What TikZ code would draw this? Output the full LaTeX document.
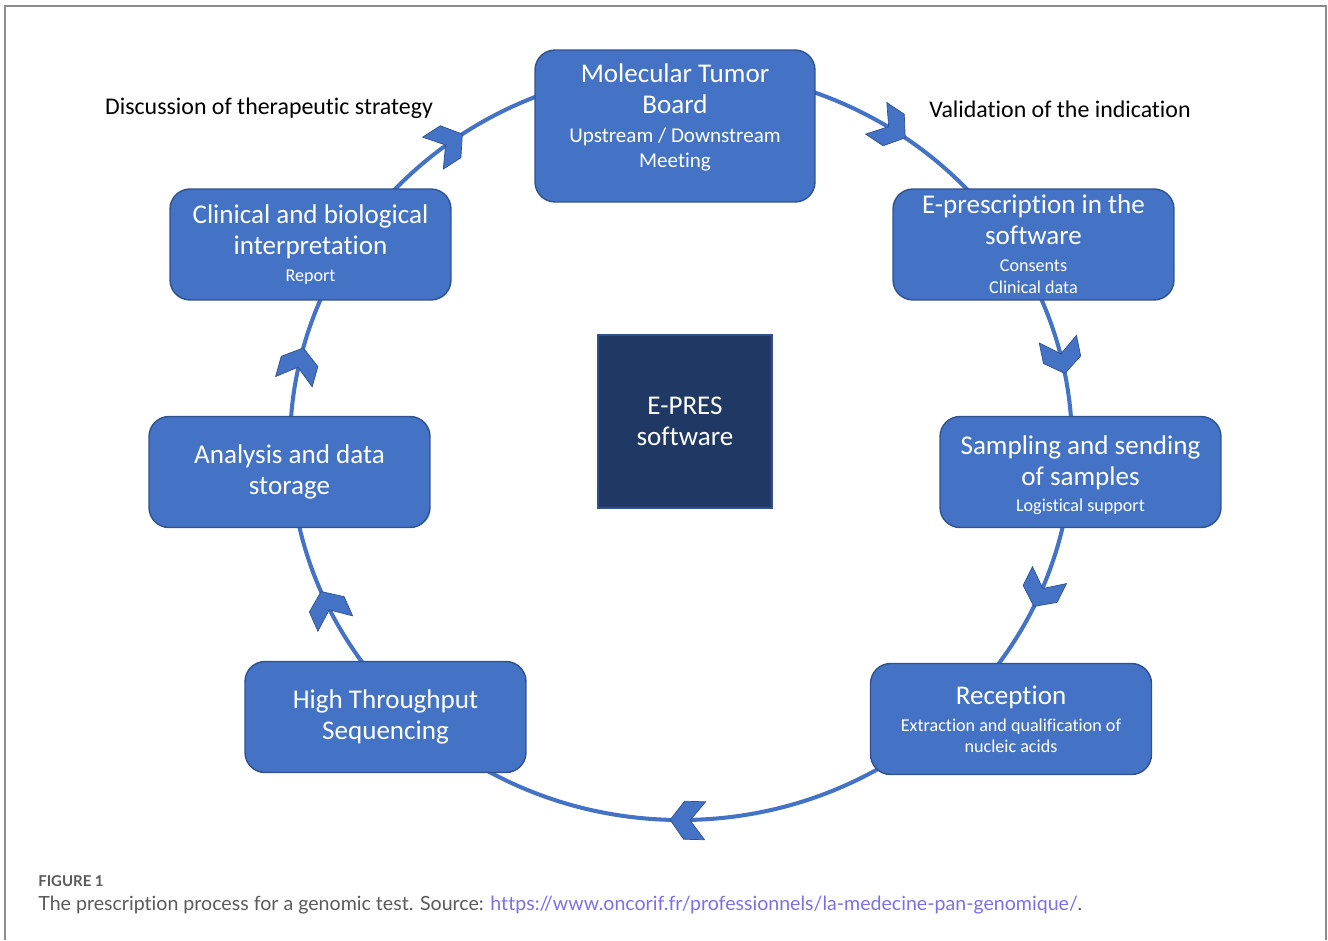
\documentclass[tikz,border=0pt]{standalone}
\usepackage{fontspec}
\setmainfont{Carlito}[RawFeature={-liga;-clig;-calt;-dlig}]
\newfontfamily\capfont{Lato}[RawFeature={-liga;-clig;-calt;-dlig}]
\usepackage{xcolor}
\usetikzlibrary{math}
\usetikzlibrary{backgrounds}

\definecolor{boxblue}{HTML}{4472C4}
\definecolor{boxedge}{HTML}{2F528F}
\definecolor{softwarenavy}{HTML}{203864}
\definecolor{framegray}{HTML}{8C8C8C}
\definecolor{captiongray}{HTML}{5A5A5A}
\definecolor{linkblue}{HTML}{7B70E6}

\newcommand{\subline}{\fontsize{12}{14.2}\selectfont}
\newcommand{\smallline}{\fontsize{10.3}{12}\selectfont}

\tikzset{
  stepbox/.style={rectangle, rounded corners=0.4cm, fill=boxblue, draw=boxedge,
    line width=0.8pt, text=white, align=center, inner sep=0pt,
    minimum width=5.62cm, minimum height=2.22cm,
    font=\fontsize{15.4}{17.6}\selectfont},
  softbox/.style={rectangle, fill=softwarenavy, draw=boxedge, line width=0.6pt,
    text=white, align=center, minimum width=3.48cm, minimum height=3.46cm,
    font=\fontsize{15.4}{17.6}\selectfont},
  sidelabel/.style={font=\fontsize{13.6}{16}\selectfont, text=black},
  cycleline/.style={draw=boxblue, line width=2.3pt},
  chev/.style={fill=boxblue, draw=boxedge, line width=0.4pt, line join=miter},
}

\begin{document}
\begin{tikzpicture}[x=0.02cm, y=0.02cm]

  \tikzmath{
    \cx = 681;  % centre of the cycle
    \cy = -445;
    \rx = 391;  % half width of the cycle
    \ry = 375;  % half height of the cycle
  }

  \useasboundingbox (0,0) rectangle (1328,-940);

  % frame of the figure
  \draw[framegray, line width=0.6pt] (5,-940) -- (5,-6) -- (1326,-6) -- (1326,-940);

  % steps of the process
  \node[stepbox, minimum width=5.6cm, minimum height=3.04cm] (board) at (675,-126)
    {Molecular Tumor\\Board\\[-1.1pt]{\subline Upstream / Downstream}\\[-3.4pt]{\subline Meeting}\\[-6pt]\mbox{}};
  \node[stepbox] (eprescription) at (1033.5,-244.5)
    {E-prescription in the\\software\\[-2.3pt]{\smallline Consents}\\[-5.1pt]{\smallline Clinical data}};
  \node[stepbox] (sampling) at (1080.5,-472)
    {\mbox{}\\[-3.2pt]Sampling and sending\\of samples\\[-2.9pt]{\smallline Logistical support}};
  \node[stepbox] (reception) at (1011,-719)
    {Reception\\[-2.3pt]{\smallline Extraction and qualification of}\\[-5.7pt]{\smallline nucleic acids}};
  \node[stepbox] (sequencing) at (385.5,-717)
    {High Throughput\\Sequencing};
  \node[stepbox] (storage) at (289.5,-472)
    {Analysis and data\\storage};
  \node[stepbox] (interpretation) at (310.5,-244.5)
    {Clinical and biological\\interpretation\\[-2.3pt]{\smallline Report}};

  % software in the middle
  \node[softbox] (software) at (685,-421.5) {E-PRES\\software};

  % side labels
  \node[sidelabel] (discussion) at (269,-108) {Discussion of therapeutic strategy};
  \node[sidelabel] (validation) at (1060,-109) {Validation of the indication};

  % the cycle behind the steps
  \coordinate (centre) at (\cx,\cy);
  \begin{scope}[on background layer]
    \draw[cycleline] (centre) ellipse [x radius=\rx, y radius=\ry];
  \end{scope}

  % chevrons along the cycle, clockwise
  \foreach \t in {55,11,-25.5,-91.6,-157,165,124} {
    \tikzmath{
      \px  = \cx + \rx*cos(\t);
      \py  = \cy + \ry*sin(\t);
      \dir = atan2(-\ry*cos(\t), \rx*sin(\t));
    }
    \begin{scope}[shift={(\px,\py)}, rotate=\dir]
      \filldraw[chev] (0,0) -- (-14,19) -- (-35,19) -- (-20,0)
        -- (-35,-19) -- (-14,-19) -- cycle;
    \end{scope}
  }

  % caption
  \node[anchor=base west, inner sep=0pt, text=captiongray,
    font=\capfont\bfseries\fontsize{8.5}{10}\selectfont] (figlabel) at (38,-886) {FIGURE 1};
  \node[anchor=base west, inner sep=0pt, text=captiongray,
    font=\capfont\fontsize{11.15}{13}\selectfont] (caption) at (38,-910)
    {The prescription process for a genomic test. Source: \textcolor{linkblue}{https://www.oncorif.fr/professionnels/la-medecine-pan-genomique/}.};

\end{tikzpicture}
\end{document}
